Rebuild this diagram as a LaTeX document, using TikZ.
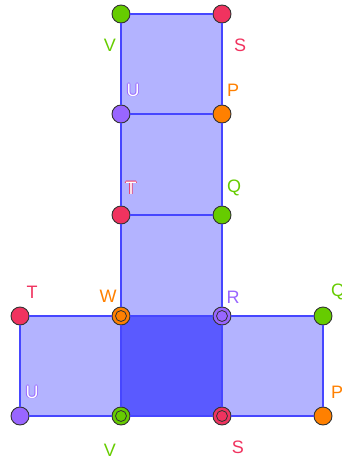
\documentclass[tikz,border=0pt]{standalone}
\usepackage{fontspec}
\setmainfont{Liberation Sans}
\definecolor{sqlight}{HTML}{B3B3FF}
\definecolor{sqdark}{HTML}{5A5AFF}
\definecolor{sqedge}{HTML}{4646FF}
\definecolor{ptgreen}{HTML}{66CC00}
\definecolor{ptred}{HTML}{F0335F}
\definecolor{ptpurple}{HTML}{9966FF}
\definecolor{ptorange}{HTML}{FF8000}
% white letter with a coloured rim
\newcommand\rimtext[2]{%
  \rlap{\hspace{0.8pt}\textcolor{#1}{#2}}%
  \rlap{\hspace{-0.8pt}\textcolor{#1}{#2}}%
  \rlap{\raisebox{0.8pt}{\textcolor{#1}{#2}}}%
  \rlap{\raisebox{-0.8pt}{\textcolor{#1}{#2}}}%
  \textcolor{white}{#2}}
\tikzset{
  pt/.style={circle, draw=black!80, line width=0.9pt, minimum size=18pt, inner sep=0pt, fill=#1},
  dblpt/.style={pt=#1, path picture={\draw[black!80, line width=0.8pt]
      (path picture bounding box.center) circle (5.5pt);}},
  lbl/.style={text=#1, font=\fontsize{18}{18}\selectfont, inner sep=0pt},
  edge/.style={draw=sqedge, line width=1.3pt}
}
\begin{document}
\begin{tikzpicture}[x=1pt, y=-1pt]
\useasboundingbox (0,0) rectangle (342,463);
% corner positions
\coordinate (a1) at (121,14);  \coordinate (b1) at (222,14);
\coordinate (a2) at (121,114); \coordinate (b2) at (222,114);
\coordinate (a3) at (121,215); \coordinate (b3) at (222,215);
\coordinate (a4) at (121,316); \coordinate (b4) at (222,316);
\coordinate (a5) at (121,416); \coordinate (b5) at (222,416);
\coordinate (l4) at (20,316);  \coordinate (r4) at (323,316);
\coordinate (l5) at (20,416);  \coordinate (r5) at (323,416);
% faces
\fill[sqlight] (a1) rectangle (b4);
\fill[sqlight] (l4) rectangle (a5);
\fill[sqlight] (b4) rectangle (r5);
\fill[sqdark] (a4) rectangle (b5);
% points
\node[pt=ptgreen] (v1) at (a1) {};
\node[pt=ptred] (s1) at (b1) {};
\node[pt=ptpurple] (u1) at (a2) {};
\node[pt=ptorange] (p1) at (b2) {};
\node[pt=ptred] (t1) at (a3) {};
\node[pt=ptgreen] (q1) at (b3) {};
\node[dblpt=ptorange] (w) at (a4) {};
\node[dblpt=ptpurple] (r) at (b4) {};
\node[pt=ptred] (t2) at (l4) {};
\node[pt=ptgreen] (q2) at (r4) {};
\node[pt=ptpurple] (u2) at (l5) {};
\node[pt=ptorange] (p2) at (r5) {};
\node[dblpt=ptgreen] (v2) at (a5) {};
\node[dblpt=ptred] (s2) at (b5) {};
% sides
\draw[edge] (v1) -- (s1);
\draw[edge] (v1) -- (u1);
\draw[edge] (s1) -- (p1);
\draw[edge] (u1) -- (p1);
\draw[edge] (u1) -- (t1);
\draw[edge] (p1) -- (q1);
\draw[edge] (t1) -- (q1);
\draw[edge] (t1) -- (w);
\draw[edge] (q1) -- (r);
\draw[edge] (w) -- (r);
\draw[edge] (t2) -- (w);
\draw[edge] (t2) -- (u2);
\draw[edge] (u2) -- (v2);
\draw[edge] (w) -- (v2);
\draw[edge] (v2) -- (s2);
\draw[edge] (r) -- (s2);
\draw[edge] (r) -- (q2);
\draw[edge] (q2) -- (p2);
\draw[edge] (s2) -- (p2);
% labels
\node[lbl=ptgreen] (lv1) at (110,45) {V};
\node[lbl=ptred] (ls1) at (240,45) {S};
\node[lbl=ptpurple] (lu1) at (133,90) {\rimtext{ptpurple}{U}};
\node[lbl=ptorange] (lp1) at (233,90) {P};
\node[lbl=ptred] (lt1) at (131,188) {\rimtext{ptred}{T}};
\node[lbl=ptgreen] (lq1) at (234,188) {Q};
\node[lbl=ptred] (lt2) at (32,292) {T};
\node[lbl=ptorange] (lw) at (108,296) {W};
\node[lbl=ptpurple] (lr) at (233,297) {R};
\node[lbl=ptgreen, anchor=west] (lq2) at (331,292) {Q};
\node[lbl=ptpurple] (lu2) at (32,392) {\rimtext{ptpurple}{U}};
\node[lbl=ptorange, anchor=west] (lp2) at (331,392) {P};
\node[lbl=ptgreen] (lv2) at (110,450) {V};
\node[lbl=ptred] (ls2) at (238,447) {S};
\end{tikzpicture}
\end{document}
